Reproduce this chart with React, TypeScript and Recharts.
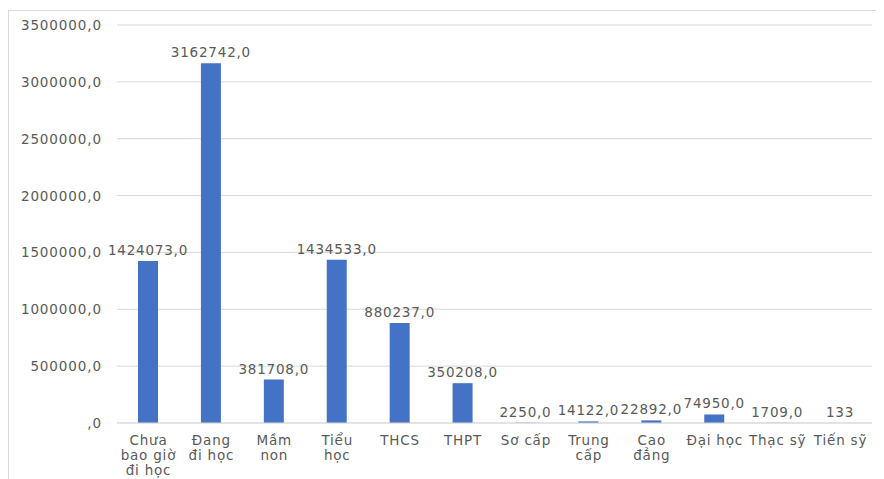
import React from "react";
import { BarChart, Bar, XAxis, YAxis, CartesianGrid, LabelList } from "recharts";

const categories = [
  "Chưa\nbao giờ\nđi học",
  "Đang\nđi học",
  "Mầm\nnon",
  "Tiểu\nhọc",
  "THCS",
  "THPT",
  "Sơ cấp",
  "Trung\ncấp",
  "Cao\nđẳng",
  "Đại học",
  "Thạc sỹ",
  "Tiến sỹ",
];
const values = [1424073, 3162742, 381708, 1434533, 880237, 350208, 2250, 14122, 22892, 74950, 1709, 133];
const valueLabels = [
  "1424073,0", "3162742,0", "381708,0", "1434533,0", "880237,0", "350208,0",
  "2250,0", "14122,0", "22892,0", "74950,0", "1709,0", "133",
];
const yTicks = [0, 500000, 1000000, 1500000, 2000000, 2500000, 3000000, 3500000];

const data = categories.map((c, i) => ({ name: c, value: values[i], label: valueLabels[i] }));

const FONT = "'DejaVu Sans', Verdana, sans-serif";
const GRAY = "#595959";

const XTick = (props: any) => {
  const { x, y, payload } = props;
  const lines = String(payload.value).split("\n");
  return (
    <g>
      {lines.map((l: string, i: number) => (
        <text
          key={i}
          x={x}
          y={y + 14 + i * 15}
          textAnchor="middle"
          fill={GRAY}
          fontSize={13.5}
          fontFamily={FONT}
          letterSpacing={0.8}
        >
          {l}
        </text>
      ))}
    </g>
  );
};

const YTick = (props: any) => {
  const { y, payload } = props;
  const v = payload.value as number;
  return (
    <text
      x={93}
      y={y + 5}
      textAnchor="end"
      fill={GRAY}
      fontSize={13.5}
      fontFamily={FONT}
      letterSpacing={0.9}
    >
      {v === 0 ? ",0" : `${v},0`}
    </text>
  );
};

export default function App() {
  return (
    <div
      style={{
        width: 876,
        height: 468,
        marginTop: 2,
        borderTop: "1px solid #d9d9d9",
        borderLeft: "1px solid #d9d9d9",
        background: "#fff",
      }}
    >
      <BarChart
        width={876}
        height={468}
        data={data}
        margin={{ top: 14, right: 13, bottom: 0, left: 0 }}
        barCategoryGap="34%"
      >
        <CartesianGrid vertical={false} stroke="#d9d9d9" />
        <XAxis
          dataKey="name"
          interval={0}
          height={56}
          axisLine={{ stroke: "#d9d9d9" }}
          tickLine={false}
          tick={<XTick />}
        />
        <YAxis
          width={108}
          domain={[0, 3500000]}
          ticks={yTicks}
          interval={0}
          axisLine={false}
          tickLine={false}
          tick={<YTick />}
        />
        <Bar dataKey="value" fill="#4472C4" barSize={20} isAnimationActive={false}>
          <LabelList
            dataKey="label"
            position="top"
            offset={6}
            fill={GRAY}
            fontSize={13.5}
            fontFamily={FONT}
            letterSpacing={0.8}
          />
        </Bar>
      </BarChart>
    </div>
  );
}
